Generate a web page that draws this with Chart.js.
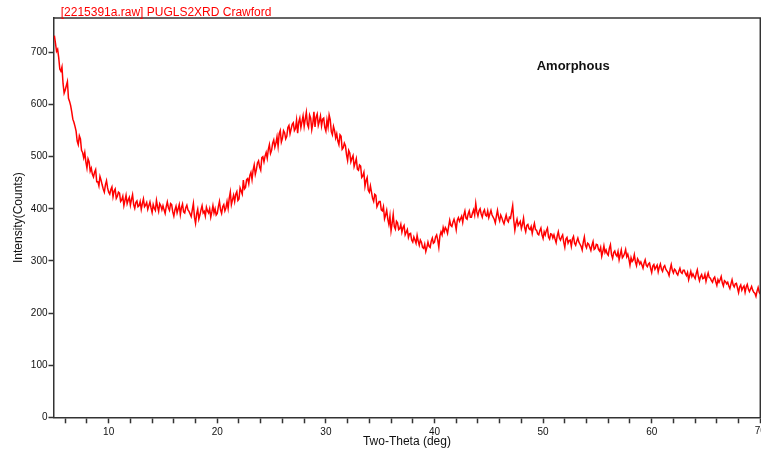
<!DOCTYPE html>
<html>
<head>
<meta charset="utf-8">
<script src="https://cdn.jsdelivr.net/npm/chart.js@4.4.1/dist/chart.umd.min.js"></script>
<style>
  html, body { margin: 0; padding: 0; background: #fff; }
</style>
</head>
<body>
<canvas id="chart" width="761" height="455"></canvas>
<script>
// scan: 5.0 to 70.0 deg two-theta, 0.1 deg steps (one row = 2 deg)
const startAngle = 5;
const stepAngle = 0.1;
const intensity = [
  732, 718, 702, 706, 690, 668, 664, 672, 640, 622, 628, 636, 644, 612, 606, 598, 586, 572, 566, 558,
  549, 530, 523, 540, 534, 512, 508, 498, 508, 490, 478, 496, 490, 472, 478, 466, 461, 470, 475, 452,
  452, 444, 462, 455, 446, 438, 432, 446, 454, 440, 432, 428, 437, 442, 423, 434, 438, 420, 424, 432,
  430, 414, 417, 424, 406, 416, 426, 410, 417, 422, 407, 418, 427, 408, 401, 412, 415, 404, 406, 414,
  399, 410, 419, 404, 407, 412, 399, 406, 413, 402, 393, 408, 401, 397, 416, 404, 395, 410, 406, 398,
  406, 398, 391, 404, 413, 402, 397, 410, 408, 394, 386, 398, 405, 392, 400, 408, 389, 402, 409, 394,
  392, 402, 407, 398, 395, 390, 385, 398, 410, 384, 372, 390, 399, 380, 388, 398, 406, 392, 395, 386,
  403, 396, 392, 400, 384, 394, 406, 392, 400, 388, 391, 404, 414, 398, 391, 404, 408, 396, 402, 414,
  401, 420, 432, 408, 417, 426, 414, 428, 433, 416, 419, 440, 434, 428, 455, 438, 441, 456, 458, 448,
  464, 470, 456, 474, 484, 466, 475, 488, 492, 480, 474, 498, 500, 490, 501, 508, 497, 514, 523, 506,
  512, 526, 532, 518, 526, 538, 520, 544, 550, 528, 535, 550, 546, 534, 539, 556, 560, 544, 553, 562,
  565, 550, 554, 570, 545, 566, 574, 556, 567, 578, 558, 572, 585, 562, 556, 580, 574, 552, 564, 586,
  557, 576, 582, 560, 568, 578, 559, 572, 574, 556, 549, 570, 557, 580, 571, 548, 542, 558, 550, 536,
  544, 530, 523, 542, 539, 514, 517, 526, 521, 504, 493, 512, 507, 490, 497, 502, 481, 488, 496, 476,
  474, 484, 482, 460, 463, 470, 443, 454, 460, 436, 432, 444, 432, 420, 414, 428, 426, 404, 409, 414,
  414, 398, 396, 404, 381, 388, 397, 380, 370, 386, 358, 372, 389, 366, 361, 376, 373, 360, 362, 370,
  355, 364, 368, 350, 355, 360, 345, 352, 353, 340, 336, 346, 340, 334, 349, 338, 330, 340, 336, 326,
  324, 332, 318, 326, 336, 328, 326, 338, 344, 334, 336, 346, 350, 340, 326, 348, 356, 350, 364, 356,
  364, 360, 353, 366, 378, 368, 366, 374, 380, 372, 360, 378, 383, 376, 381, 386, 374, 388, 396, 382,
  380, 390, 396, 384, 384, 392, 398, 388, 410, 394, 386, 396, 400, 390, 384, 394, 398, 388, 386, 396,
  383, 390, 397, 388, 384, 380, 373, 386, 397, 384, 377, 388, 383, 376, 371, 380, 388, 378, 375, 384,
  382, 394, 406, 378, 359, 372, 380, 368, 372, 376, 362, 370, 382, 364, 356, 368, 370, 362, 360, 366,
  353, 364, 372, 360, 359, 352, 350, 358, 363, 350, 343, 356, 350, 358, 363, 346, 342, 352, 351, 344,
  350, 342, 335, 348, 356, 344, 340, 346, 350, 336, 326, 342, 345, 334, 339, 340, 328, 342, 347, 334,
  330, 338, 344, 336, 332, 328, 321, 336, 346, 330, 325, 334, 332, 326, 320, 330, 337, 322, 324, 332,
  331, 322, 319, 326, 309, 318, 329, 316, 321, 314, 311, 324, 331, 312, 305, 316, 319, 312, 309, 318,
  302, 312, 321, 306, 309, 314, 322, 308, 313, 304, 292, 306, 299, 302, 312, 298, 291, 304, 300, 294,
  298, 292, 286, 296, 302, 292, 289, 294, 296, 286, 278, 290, 293, 284, 288, 292, 279, 288, 294, 284,
  280, 288, 291, 284, 281, 278, 272, 284, 293, 282, 277, 284, 282, 276, 273, 280, 286, 278, 276, 282,
  282, 276, 272, 278, 264, 272, 280, 270, 275, 270, 266, 276, 283, 270, 262, 270, 274, 266, 267, 274,
  261, 270, 277, 268, 267, 262, 259, 266, 269, 260, 253, 264, 259, 264, 270, 258, 252, 262, 260, 256,
  259, 252, 247, 256, 264, 254, 250, 256, 257, 248, 239, 250, 254, 244, 249, 252, 240, 250, 255, 246,
  241, 246, 251, 244, 240, 238, 232, 242, 249, 240, 236
];
const xTicks = [6, 8, 10, 12, 14, 16, 18, 20, 22, 24, 26, 28, 30, 32, 34, 36, 38,
  40, 42, 44, 46, 48, 50, 52, 54, 56, 58, 60, 62, 64, 66, 68, 70];
const xLabels = [10, 20, 30, 40, 50, 60, 70];
const yTicks = [0, 100, 200, 300, 400, 500, 600, 700];

const chartTitle = '[2215391a.raw] PUGLS2XRD Crawford';
const phaseLabel = 'Amorphous';
const fontFamily = '"Liberation Sans", Arial, sans-serif';

const points = intensity.map((v, i) => ({ x: +(startAngle + i * stepAngle).toFixed(1), y: v }));

// frame, header text and the clipped last x label
const extras = {
  id: 'extras',
  afterDraw(chart) {
    const ctx = chart.ctx;
    const a = chart.chartArea;
    ctx.save();
    ctx.strokeStyle = '#333';
    ctx.lineWidth = 1.5;
    ctx.beginPath();
    ctx.moveTo(a.left, a.top);
    ctx.lineTo(a.right, a.top);
    ctx.lineTo(a.right, a.bottom);
    ctx.stroke();

    ctx.fillStyle = '#ff0000';
    ctx.font = '12px ' + fontFamily;
    ctx.textAlign = 'left';
    ctx.textBaseline = 'alphabetic';
    ctx.fillText(chartTitle, 60.7, 16);

    ctx.fillStyle = '#111';
    ctx.font = 'bold 13px ' + fontFamily;
    ctx.fillText(phaseLabel, 536.7, 69.5);

    const last = xLabels[xLabels.length - 1];
    ctx.fillStyle = '#111';
    ctx.font = '10px ' + fontFamily;
    ctx.textAlign = 'center';
    ctx.textBaseline = 'top';
    ctx.fillText(String(last), chart.scales.x.getPixelForValue(last), a.bottom + 9);
    ctx.restore();
  }
};

new Chart(document.getElementById('chart'), {
  type: 'line',
  data: {
    datasets: [{
      data: points,
      borderColor: '#ff0000',
      borderWidth: 1.5,
      pointRadius: 0,
      tension: 0,
      fill: false
    }]
  },
  options: {
    responsive: false,
    animation: false,
    layout: { padding: { top: 18, right: 0.7, left: 0, bottom: 0 } },
    plugins: { legend: { display: false }, tooltip: { enabled: false } },
    scales: {
      x: {
        type: 'linear',
        min: 4.92,
        max: 70,
        afterBuildTicks: s => { s.ticks = xTicks.map(v => ({ value: v })); },
        afterFit: s => { s.height = 37.7; s.paddingLeft = 0; s.paddingRight = 0; },
        ticks: {
          autoSkip: false,
          maxRotation: 0,
          padding: 3,
          color: '#111',
          font: { family: fontFamily, size: 10 },
          callback: v => (xLabels.includes(v) && v < 70) ? String(v) : ''
        },
        grid: { drawOnChartArea: false, tickLength: 6, tickWidth: 1.5, tickColor: '#333' },
        border: { display: true, color: '#333', width: 1.5 },
        title: {
          display: true,
          text: 'Two-Theta (deg)',
          color: '#111',
          font: { family: fontFamily, size: 12 },
          padding: { top: 0, bottom: 6 }
        }
      },
      y: {
        min: 0,
        max: 766,
        afterBuildTicks: s => { s.ticks = yTicks.map(v => ({ value: v })); },
        afterFit: s => { s.width = 53.5; s.paddingTop = 0; s.paddingBottom = 0; },
        ticks: {
          padding: 1,
          color: '#111',
          font: { family: fontFamily, size: 10 }
        },
        grid: { drawOnChartArea: false, tickLength: 5, tickWidth: 1.5, tickColor: '#333' },
        border: { display: true, color: '#333', width: 1.5 },
        title: {
          display: true,
          text: 'Intensity(Counts)',
          color: '#111',
          font: { family: fontFamily, size: 12 },
          padding: { top: 11, bottom: 0 }
        }
      }
    }
  },
  plugins: [extras]
});
</script>
</body>
</html>
